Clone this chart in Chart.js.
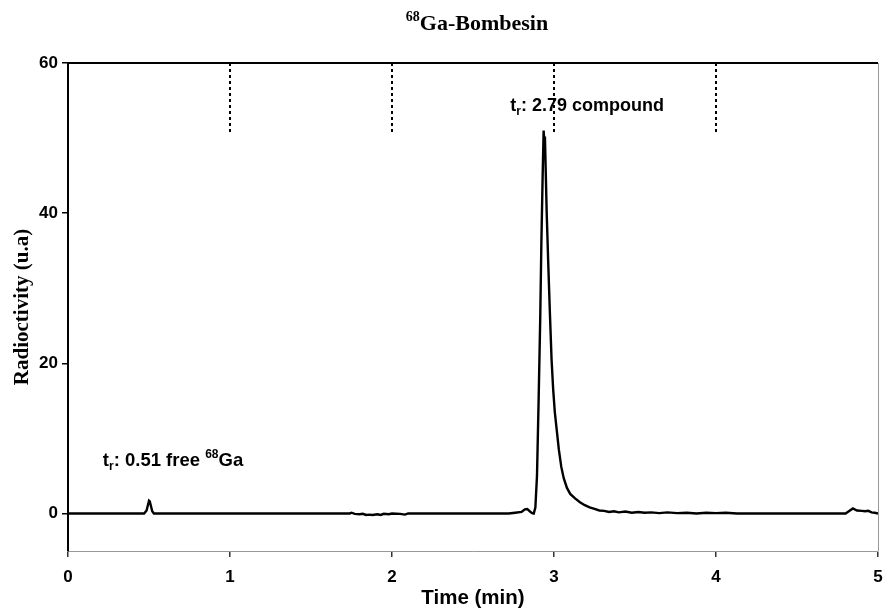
<!DOCTYPE html>
<html>
<head>
<meta charset="utf-8">
<script src="https://cdn.jsdelivr.net/npm/chart.js@4.4.0/dist/chart.umd.min.js"></script>
<style>
  html, body { margin: 0; padding: 0; background: #fff; }
  #wrap { width: 893px; height: 611px; position: relative; }
</style>
</head>
<body>
<div id="wrap"><canvas id="chart"></canvas></div>
<script>
// Radio-HPLC trace (time in min, signal in u.a)
const timeMin = [
  0, 0.47, 0.485, 0.50, 0.505, 0.52, 0.53,
  1.74, 1.75, 1.77, 1.80, 1.82, 1.84, 1.86, 1.88, 1.91, 1.93, 1.95, 1.98, 2.00, 2.05, 2.08, 2.10, 2.13,
  2.72, 2.76, 2.80, 2.82, 2.835, 2.85, 2.865, 2.875,
  2.885, 2.895, 2.905, 2.915, 2.922, 2.930, 2.936, 2.940, 2.944, 2.948, 2.955, 2.965, 2.975,
  2.985, 2.995, 3.005, 3.015, 3.03, 3.045, 3.06, 3.08, 3.10, 3.13, 3.16, 3.19, 3.22, 3.25,
  3.28, 3.31, 3.34, 3.37, 3.40, 3.44, 3.48, 3.52, 3.56, 3.60, 3.65, 3.70, 3.76, 3.82, 3.88, 3.94, 4.00, 4.06, 4.13,
  4.80, 4.82, 4.845, 4.87, 4.90, 4.92, 4.94, 4.96, 4.98, 5.0
];
const signal = [
  0, 0, 0.4, 1.7, 1.6, 0.3, 0,
  0, 0.1, -0.05, -0.1, -0.05, -0.2, -0.15, -0.2, -0.1, -0.2, -0.05, -0.1, 0, -0.05, -0.15, 0, 0,
  0, 0.1, 0.2, 0.55, 0.6, 0.3, 0.05, 0.0,
  0.8, 5, 15, 26, 36, 45, 51, 49.5, 50.2, 46.5, 40, 33, 26.5,
  20.5, 16.5, 13.5, 11.5, 8.5, 6.2, 4.7, 3.4, 2.6, 2.0, 1.5, 1.1, 0.8, 0.6,
  0.4, 0.35, 0.2, 0.3, 0.15, 0.25, 0.1, 0.2, 0.1, 0.15, 0.05, 0.15, 0.05, 0.1, 0.0, 0.1, 0.05, 0.1, 0,
  0, 0.3, 0.67, 0.4, 0.35, 0.3, 0.35, 0.15, 0.1, 0
];
// dashed marker lines hanging from the top of the frame
const markerTimes = [1, 2, 3, 4];
const markerTop = 60;
const markerBottom = 50.8;

const yTicks = [0, 20, 40, 60];
const xTicks = [0, 1, 2, 3, 4, 5];

const SANS = '"Liberation Sans", Arial, sans-serif';
const SERIF = '"Liberation Serif", "Times New Roman", serif';

const traceData = timeMin.map((t, i) => ({ x: t, y: signal[i] }));
const markerSets = markerTimes.map(t => ({
  data: [{ x: t, y: markerTop }, { x: t, y: markerBottom }],
  borderColor: '#000',
  borderWidth: 2,
  borderDash: [3, 3],
  pointRadius: 0,
  fill: false
}));

// draws title, peak labels (with sub/superscripts) and the top/right frame
const decorPlugin = {
  id: 'decor',
  afterDraw(chart) {
    const { ctx, chartArea, scales } = chart;
    ctx.save();

    // frame: top black, right grey
    ctx.strokeStyle = '#000';
    ctx.lineWidth = 2;
    ctx.beginPath();
    ctx.moveTo(chartArea.left - 1, chartArea.top);
    ctx.lineTo(chartArea.right, chartArea.top);
    ctx.stroke();
    ctx.strokeStyle = '#999';
    ctx.lineWidth = 1;
    ctx.beginPath();
    ctx.moveTo(chartArea.right + 0.5, chartArea.top);
    ctx.lineTo(chartArea.right + 0.5, chartArea.bottom);
    ctx.stroke();

    ctx.fillStyle = '#000';
    ctx.textBaseline = 'alphabetic';
    ctx.textAlign = 'left';

    // title
    const mid = (chartArea.left + chartArea.right) / 2 + 4;
    ctx.font = 'bold 14px ' + SERIF;
    const supW = ctx.measureText('68').width;
    ctx.font = 'bold 22px ' + SERIF;
    const mainW = ctx.measureText('Ga-Bombesin').width;
    let x0 = mid - (supW + mainW) / 2;
    ctx.fillText('Ga-Bombesin', x0 + supW, 30);
    ctx.font = 'bold 14px ' + SERIF;
    ctx.fillText('68', x0, 21);

    // peak labels
    function label(tx, ty, parts) {
      let x = scales.x.getPixelForValue(tx);
      const y = scales.y.getPixelForValue(ty);
      parts.forEach(p => {
        ctx.font = 'bold ' + p.size + 'px ' + SANS;
        ctx.fillText(p.text, x, y + (p.dy || 0));
        x += ctx.measureText(p.text).width;
      });
    }
    label(2.73, 53.6, [
      { text: 't', size: 18 },
      { text: 'r', size: 12, dy: 4 },
      { text: ': 2.79 compound', size: 18 }
    ]);
    label(0.215, 6.3, [
      { text: 't', size: 18.5 },
      { text: 'r', size: 12, dy: 4 },
      { text: ': 0.51 free ', size: 18.5 },
      { text: '68', size: 12, dy: -8 },
      { text: 'Ga', size: 18.5 }
    ]);
    ctx.restore();
  }
};

new Chart(document.getElementById('chart'), {
  type: 'line',
  data: {
    datasets: [{
      data: traceData,
      borderColor: '#000',
      borderWidth: 2.4,
      pointRadius: 0,
      tension: 0,
      fill: false
    }, ...markerSets]
  },
  options: {
    responsive: true,
    maintainAspectRatio: false,
    animation: false,
    layout: { padding: { top: 63, right: 15, left: 0, bottom: 0 } },
    scales: {
      x: {
        type: 'linear',
        min: 0,
        max: 5,
        afterFit: s => { s.height = 60; },
        afterBuildTicks: s => { s.ticks = xTicks.map(v => ({ value: v })); },
        border: { display: true, color: '#999', width: 1 },
        grid: { drawOnChartArea: false, drawTicks: true, tickLength: 6, color: '#333', lineWidth: 1.5 },
        ticks: { color: '#000', padding: 10, font: { family: SANS, size: 17, weight: 'bold' } },
        title: {
          display: true, text: 'Time (min)', color: '#000',
          font: { family: SANS, size: 20.5, weight: 'bold' }, padding: { top: 0, bottom: 0 }
        }
      },
      y: {
        min: -5,
        max: 60,
        afterFit: s => { s.width = 68; },
        afterBuildTicks: s => { s.ticks = yTicks.map(v => ({ value: v })); },
        border: { display: true, color: '#000', width: 2 },
        grid: { drawOnChartArea: false, drawTicks: true, tickLength: 6, color: '#000', lineWidth: 1.5 },
        ticks: { color: '#000', padding: 4, font: { family: SANS, size: 17, weight: 'bold' } },
        title: {
          display: true, text: 'Radioctivity (u.a)', color: '#000',
          font: { family: SERIF, size: 21, weight: 'bold' }, padding: { top: 10, bottom: 0 }
        }
      }
    },
    plugins: {
      legend: { display: false },
      tooltip: { enabled: false }
    }
  },
  plugins: [decorPlugin]
});
</script>
</body>
</html>
